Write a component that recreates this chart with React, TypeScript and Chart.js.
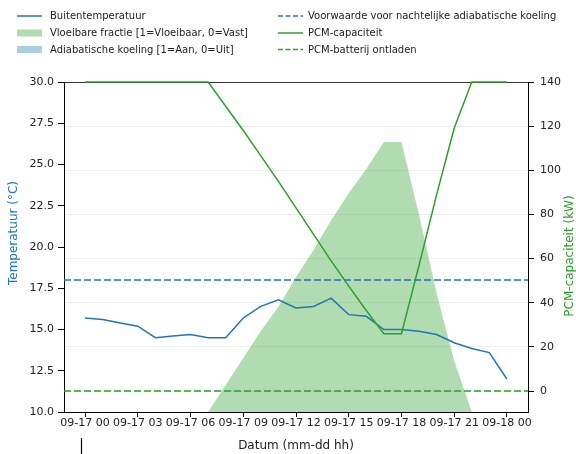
import React, { useEffect, useRef } from 'react';
import { Chart, registerables } from 'chart.js';

Chart.register(...registerables);

// ---------------- data ----------------
const HOURS = [0, 1, 2, 3, 4, 5, 6, 7, 8, 9, 10, 11, 12, 13, 14, 15, 16, 17, 18, 19, 20, 21, 22, 23, 24];
const TEMPERATURE = [15.7, 15.6, 15.4, 15.2, 14.5, 14.6, 14.7, 14.5, 14.5, 15.7, 16.4, 16.8, 16.3, 16.4, 16.9, 15.9, 15.8, 15.0, 15.0, 14.9, 14.7, 14.2, 13.85, 13.6, 12.0];
const LIQUID_FRACTION = [0, 0, 0, 0, 0, 0, 0, 0, 0.1, 0.2, 0.3, 0.39, 0.5, 0.6, 0.71, 0.81, 0.9, 1.0, 1.0, 0.73, 0.44, 0.19, 0, 0, 0];
const ADIABATIC_COOLING = [0, 0, 0, 0, 0, 0, 0, 0, 0, 0, 0, 0, 0, 0, 0, 0, 0, 0, 0, 0, 0, 0, 0, 0, 0];
const PCM_CAPACITY = [140, 140, 140, 140, 140, 140, 140, 140, 129, 118, 106.5, 95, 83, 71, 59, 47.5, 36.5, 26, 26, 57, 89, 119, 140, 140, 140];
const TEMP_THRESHOLD = 18;
const PCM_DISCHARGED = 0;

const X_TICKS = [0, 3, 6, 9, 12, 15, 18, 21, 24];
const X_TICK_LABELS = ['09-17 00', '09-17 03', '09-17 06', '09-17 09', '09-17 12', '09-17 15', '09-17 18', '09-17 21', '09-18 00'];
const Y_TICKS = [10, 12.5, 15, 17.5, 20, 22.5, 25, 27.5, 30];
const Y1_TICKS = [0, 20, 40, 60, 80, 100, 120, 140];

const LABELS = {
  temp: 'Buitentemperatuur',
  fraction: 'Vloeibare fractie [1=Vloeibaar, 0=Vast]',
  adiabatic: 'Adiabatische koeling [1=Aan, 0=Uit]',
  threshold: 'Voorwaarde voor nachtelijke adiabatische koeling',
  capacity: 'PCM-capaciteit',
  discharged: 'PCM-batterij ontladen',
};

// ---------------- styling ----------------
const BLUE = '#1f77b4';
const GREEN = '#2ca02c';
const GREEN_FILL = 'rgba(44,160,44,0.37)';
const BLUE_FILL = 'rgba(31,119,180,0.37)';
const FONT = '"DejaVu Sans", sans-serif';
const TEXT = '#222';
const X_MIN = -1.2;
const X_MAX = 25.2;
const DASH = [7, 3];

const pts = (ys: number[]) => HOURS.map((h, i) => ({ x: h, y: ys[i] }));
const hline = (v: number) => [{ x: X_MIN, y: v }, { x: X_MAX, y: v }];

const decorPlugin = {
  id: 'decor',
  beforeDatasetsDraw(chart: any) {
    const { ctx, chartArea: a } = chart;
    ctx.save();
    ctx.strokeStyle = '#333';
    ctx.lineWidth = 1;
    ctx.beginPath();
    ctx.moveTo(a.left, a.top + 0.5);
    ctx.lineTo(a.right, a.top + 0.5);
    ctx.stroke();
    ctx.restore();
  },
  afterDraw(chart: any) {
    const { ctx } = chart;
    ctx.save();

    // axis titles
    ctx.font = `12px ${FONT}`;
    ctx.textAlign = 'center';
    ctx.textBaseline = 'middle';
    ctx.save();
    ctx.fillStyle = BLUE;
    ctx.translate(14, 233);
    ctx.rotate(-Math.PI / 2);
    ctx.fillText('Temperatuur (°C)', 0, 0);
    ctx.restore();
    ctx.save();
    ctx.fillStyle = GREEN;
    ctx.translate(570, 256);
    ctx.rotate(-Math.PI / 2);
    ctx.fillText('PCM-capaciteit (kW)', 0, 0);
    ctx.restore();

    // legends
    const rows = [16, 33, 49.5];
    const cols = [
      { hx: 17, tx: 50, items: [
        { kind: 'line', color: BLUE, dash: [] as number[], label: LABELS.temp },
        { kind: 'patch', color: GREEN_FILL, label: LABELS.fraction },
        { kind: 'patch', color: BLUE_FILL, label: LABELS.adiabatic },
      ] },
      { hx: 278, tx: 308, items: [
        { kind: 'line', color: BLUE, dash: [5, 2.5], label: LABELS.threshold },
        { kind: 'line', color: GREEN, dash: [] as number[], label: LABELS.capacity },
        { kind: 'line', color: GREEN, dash: [5, 2.5], label: LABELS.discharged },
      ] },
    ];
    ctx.font = `10px ${FONT}`;
    ctx.textAlign = 'left';
    for (const col of cols) {
      col.items.forEach((it: any, i: number) => {
        const y = rows[i];
        if (it.kind === 'line') {
          ctx.strokeStyle = it.color;
          ctx.lineWidth = 1.5;
          ctx.setLineDash(it.dash);
          ctx.beginPath();
          ctx.moveTo(col.hx, y);
          ctx.lineTo(col.hx + 25, y);
          ctx.stroke();
          ctx.setLineDash([]);
        } else {
          ctx.fillStyle = it.color;
          ctx.fillRect(col.hx, y - 3.5, 25, 7);
        }
        ctx.fillStyle = TEXT;
        ctx.fillText(it.label, col.tx, y + 0.5);
      });
    }

    // small mark below the axis
    ctx.strokeStyle = '#000';
    ctx.lineWidth = 1.2;
    ctx.beginPath();
    ctx.moveTo(81.5, 438);
    ctx.lineTo(81.5, 454);
    ctx.stroke();
    ctx.restore();
  },
};

export default function App() {
  const ref = useRef<HTMLCanvasElement>(null);

  useEffect(() => {
    document.body.style.margin = '0';
    const tickFont = { family: FONT, size: 11 };
    const chart = new Chart(ref.current as HTMLCanvasElement, {
      type: 'line',
      data: {
        datasets: [
          {
            label: LABELS.temp, data: pts(TEMPERATURE), yAxisID: 'y',
            borderColor: BLUE, borderWidth: 1.5, pointRadius: 0, tension: 0, fill: false, order: 2,
          },
          {
            label: LABELS.fraction, data: pts(LIQUID_FRACTION), yAxisID: 'yf',
            borderWidth: 0, borderColor: 'rgba(0,0,0,0)', backgroundColor: GREEN_FILL,
            pointRadius: 0, tension: 0, fill: 'origin', order: 10,
          },
          {
            label: LABELS.adiabatic, data: pts(ADIABATIC_COOLING), yAxisID: 'yf',
            borderWidth: 0, borderColor: 'rgba(0,0,0,0)', backgroundColor: BLUE_FILL,
            pointRadius: 0, tension: 0, fill: 'origin', order: 9,
          },
          {
            label: LABELS.threshold, data: hline(TEMP_THRESHOLD), yAxisID: 'y',
            borderColor: BLUE, borderWidth: 1.5, borderDash: DASH, pointRadius: 0, fill: false, order: 1,
          },
          {
            label: LABELS.capacity, data: pts(PCM_CAPACITY), yAxisID: 'y1',
            borderColor: GREEN, borderWidth: 1.5, pointRadius: 0, tension: 0, fill: false, order: 1,
            clip: 2,
          },
          {
            label: LABELS.discharged, data: hline(PCM_DISCHARGED), yAxisID: 'y1',
            borderColor: GREEN, borderWidth: 1.5, borderDash: DASH, pointRadius: 0, fill: false, order: 1,
          },
        ],
      },
      options: {
        responsive: false,
        animation: false,
        devicePixelRatio: 1,
        parsing: false as any,
        layout: { padding: { top: 82, left: 0, right: 0, bottom: 0 } },
        plugins: { legend: { display: false }, tooltip: { enabled: false } },
        scales: {
          x: {
            type: 'linear', min: X_MIN, max: X_MAX,
            afterBuildTicks: (s: any) => { s.ticks = X_TICKS.map((v) => ({ value: v })); },
            afterFit: (s: any) => { s.height = 42; },
            ticks: {
              autoSkip: false, maxRotation: 0, padding: 0, color: TEXT, font: tickFont,
              callback: (_v: any, i: number) => X_TICK_LABELS[i],
            },
            grid: { drawOnChartArea: false, tickLength: 5, tickColor: '#000', tickWidth: 1 },
            border: { color: '#000', width: 1 },
            title: { display: true, text: 'Datum (mm-dd hh)', color: TEXT, font: { family: FONT, size: 12 }, padding: { top: 0, bottom: 1 } },
          },
          y: {
            type: 'linear', position: 'left', min: 10, max: 30,
            afterBuildTicks: (s: any) => { s.ticks = Y_TICKS.map((v) => ({ value: v })); },
            afterFit: (s: any) => { s.width = 64; },
            ticks: { padding: 4, color: TEXT, font: tickFont, callback: (v: any) => Number(v).toFixed(1) },
            grid: { drawOnChartArea: false, tickLength: 6, tickColor: '#000', tickWidth: 1 },
            border: { color: '#000', width: 1 },
          },
          y1: {
            type: 'linear', position: 'right', min: -9.5, max: 140,
            afterBuildTicks: (s: any) => { s.ticks = Y1_TICKS.map((v) => ({ value: v })); },
            afterFit: (s: any) => { s.width = 48; },
            ticks: { padding: 6, color: TEXT, font: tickFont, callback: (v: any) => String(v) },
            grid: { drawOnChartArea: true, color: 'rgba(0,0,0,0.07)', tickLength: 6, tickColor: '#000', tickWidth: 1 },
            border: { color: '#000', width: 1 },
          },
          yf: { type: 'linear', display: false, min: 0, max: 1.222 },
        },
      } as any,
      plugins: [decorPlugin],
    });
    return () => chart.destroy();
  }, []);

  return (
    <div style={{ width: 576, height: 454 }}>
      <canvas ref={ref} width={576} height={454} style={{ display: 'block' }} />
    </div>
  );
}
